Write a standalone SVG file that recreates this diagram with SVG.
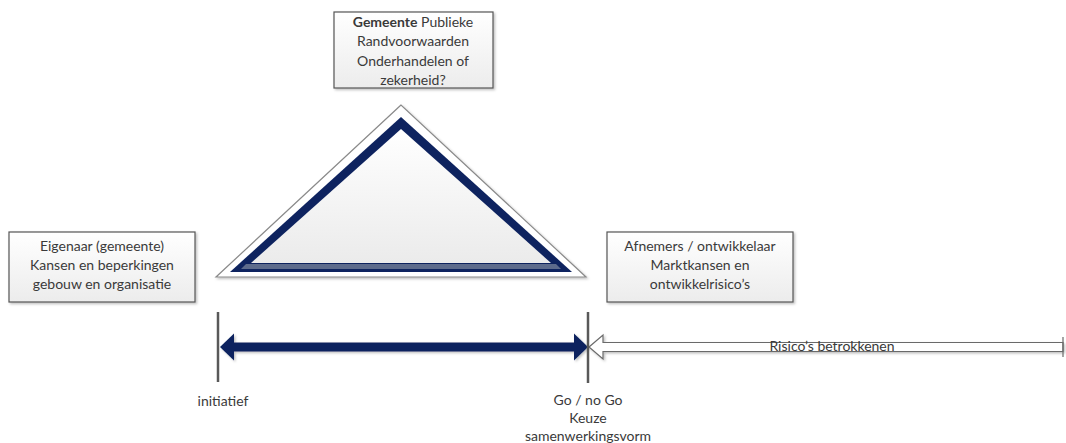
<svg xmlns="http://www.w3.org/2000/svg" width="1066" height="443" viewBox="0 0 1066 443">
  <defs>
    <linearGradient id="boxFill" x1="0" y1="0" x2="0" y2="1">
      <stop offset="0" stop-color="#ffffff"/>
      <stop offset="1" stop-color="#ececec"/>
    </linearGradient>
    <linearGradient id="triFill" x1="0" y1="0" x2="0" y2="1">
      <stop offset="0" stop-color="#ffffff"/>
      <stop offset="1" stop-color="#ebebeb"/>
    </linearGradient>
    <filter id="shadow" x="-10%" y="-10%" width="125%" height="130%">
      <feDropShadow dx="1.5" dy="1.5" stdDeviation="1.2" flood-color="#000" flood-opacity="0.25"/>
    </filter>
  </defs>
  <style>
    .box { fill: url(#boxFill); stroke: #555; stroke-width: 1.2; filter: url(#shadow); }
    .lbl { font-family: Lato, "Open Sans", "Liberation Sans", sans-serif; font-size: 14px; fill: #3a3a3a; text-anchor: middle; }
    .tick { stroke: #595959; stroke-width: 2.5; }
    .navy { fill: #0e235f; }
  </style>

  <rect width="1066" height="443" fill="#ffffff"/>

  <!-- Municipality box (top) -->
  <g id="gemeente">
    <rect class="box" x="334" y="12" width="159" height="76"/>
    <text class="lbl" x="413" y="27"><tspan font-weight="bold">Gemeente</tspan> Publieke</text>
    <text class="lbl" x="413" y="46">Randvoorwaarden</text>
    <text class="lbl" x="413" y="66">Onderhandelen of</text>
    <text class="lbl" x="413" y="85">zekerheid?</text>
  </g>

  <!-- Triangle -->
  <g id="driehoek">
    <polygon points="401,105 216,277 586,277" fill="#ffffff" stroke="#8a8a8a" stroke-width="1.2" filter="url(#shadow)"/>
    <polygon class="navy" points="401,117 230,272 572,272"/>
    <polygon points="246,264 556,264 561,269 241,269" fill="#5d6b8c"/>
    <polygon points="401,129 251,263 551,263" fill="url(#triFill)"/>
  </g>

  <!-- Owner box (left) -->
  <g id="eigenaar">
    <rect class="box" x="9" y="232" width="186" height="70"/>
    <text class="lbl" x="102" y="251">Eigenaar (gemeente)</text>
    <text class="lbl" x="102" y="270">Kansen en beperkingen</text>
    <text class="lbl" x="102" y="289">gebouw en organisatie</text>
  </g>

  <!-- Buyers / developer box (right) -->
  <g id="afnemers">
    <rect class="box" x="607" y="232" width="186" height="70"/>
    <text class="lbl" x="700" y="251">Afnemers / ontwikkelaar</text>
    <text class="lbl" x="700" y="270">Marktkansen en</text>
    <text class="lbl" x="700" y="289">ontwikkelrisico’s</text>
  </g>

  <!-- Timeline -->
  <g id="verbindingen">
    <!-- double-headed navy arrow -->
    <g filter="url(#shadow)">
      <rect class="navy" x="232" y="342.5" width="344" height="9"/>
      <polygon class="navy" points="220,347 234,333.5 234,360.5"/>
      <polygon class="navy" points="588,347 574,333.5 574,360.5"/>
    </g>
    <!-- hollow arrow -->
    <path d="M589,347 L603,335 L603,342.5 L1063,342.5 L1063,351.5 L603,351.5 L603,359 Z" fill="#ffffff" stroke="#6a6a6a" stroke-width="1.2" filter="url(#shadow)"/>
    <line x1="1063" y1="337" x2="1063" y2="357" stroke="#6a6a6a" stroke-width="1.2"/>
    <!-- milestones -->
    <line class="tick" x1="218" y1="312" x2="218" y2="382"/>
    <line class="tick" x1="588" y1="312" x2="588" y2="383"/>
  </g>

  <g id="label-risico">
    <text class="lbl" x="832" y="351">Risico’s betrokkenen</text>
  </g>
  <g id="label-initiatief">
    <text class="lbl" x="223" y="406">initiatief</text>
  </g>
  <g id="label-go">
    <text class="lbl" x="588" y="405">Go / no Go</text>
    <text class="lbl" x="588" y="423">Keuze</text>
    <text class="lbl" x="588" y="441">samenwerkingsvorm</text>
  </g>
</svg>
